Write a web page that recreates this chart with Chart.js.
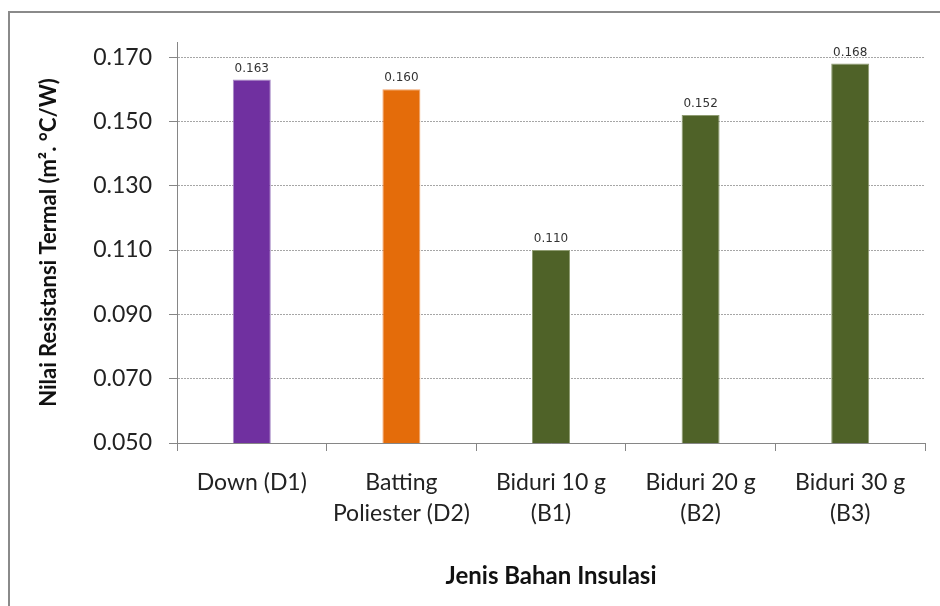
<!DOCTYPE html>
<html>
<head>
<meta charset="utf-8">
<script src="https://cdn.jsdelivr.net/npm/chart.js@4"></script>
<style>
  body { margin: 0; background: #fff; }
  #frame { position: absolute; left: 8px; top: 11px; width: 940px; height: 600px;
           border-left: 2px solid #8a8a8a; border-top: 2px solid #8a8a8a; }
  #wrap { position: absolute; left: 0; top: 0; width: 940px; height: 606px; }
  canvas { display: block; }
</style>
</head>
<body>
<div id="frame"></div>
<div id="wrap"><canvas id="chart" width="940" height="606"></canvas></div>
<script>
// Categories and values
const categories = [
  ["Down (D1)"],
  ["Batting", "Poliester (D2)"],
  ["Biduri 10 g", "(B1)"],
  ["Biduri 20 g", "(B2)"],
  ["Biduri 30 g", "(B3)"],
];
const resistance = [0.163, 0.160, 0.110, 0.152, 0.168];
const yTicks = [0.050, 0.070, 0.090, 0.110, 0.130, 0.150, 0.170];

const barColors = ["#7030A0", "#E46C0A", "#4F6228", "#4F6228", "#4F6228"];
const barEdges = ["#a88bc6", "#f2a36a", "#8f9c72", "#8f9c72", "#8f9c72"];

const axisGray = "#868686";
const fontFamily = "Lato, 'Open Sans', sans-serif";

// value labels above each bar
const valueLabels = {
  id: "valueLabels",
  afterDatasetsDraw(chart) {
    const ctx = chart.ctx;
    const meta = chart.getDatasetMeta(0);
    ctx.save();
    ctx.font = "12px 'DejaVu Sans'";
    ctx.fillStyle = "#333";
    ctx.textAlign = "center";
    ctx.textBaseline = "alphabetic";
    meta.data.forEach((bar, i) => {
      ctx.fillText(resistance[i].toFixed(3), bar.x, bar.y - 8);
    });
    ctx.restore();
  }
};

const ctx = document.getElementById("chart").getContext("2d");
const chart = new Chart(ctx, {
  type: "bar",
  data: {
    labels: categories,
    datasets: [{
      data: resistance,
      backgroundColor: barColors,
      borderColor: barEdges,
      borderWidth: 1,
      categoryPercentage: 1,
      barPercentage: 0.254,
    }],
  },
  options: {
    responsive: false,
    animation: false,
    layout: { padding: { left: 30, right: 15, top: 42, bottom: 10 } },
    plugins: {
      legend: { display: false },
      tooltip: { enabled: false },
    },
    scales: {
      x: {
        afterFit: (scale) => { scale.height = 153; },
        grid: { offset: true, drawOnChartArea: false, tickLength: 8, color: axisGray },
        border: { color: axisGray },
        ticks: {
          color: "#222",
          padding: 16,
          maxRotation: 0,
          autoSkip: false,
          font: { family: fontFamily, size: 23, lineHeight: 1.36 },
        },
        title: {
          display: true,
          text: "Jenis Bahan Insulasi",
          color: "#111",
          font: { family: fontFamily, size: 24, weight: "bold" },
          padding: { top: 0, bottom: 5 },
        },
      },
      y: {
        min: 0.05,
        max: 0.1747,
        afterFit: (scale) => { scale.width = 147; },
        afterBuildTicks: (scale) => { scale.ticks = yTicks.map(v => ({ value: v })); },
        grid: {
          color: "#a6a6a6",
          tickColor: axisGray,
          tickLength: 8,
          tickBorderDash: [],
        },
        border: { color: axisGray, dash: [2, 1] },
        ticks: {
          color: "#222",
          padding: 17,
          font: { family: fontFamily, size: 23 },
          callback: (v) => Number(v).toFixed(3),
        },
        title: {
          display: true,
          text: "Nilai Resistansi Termal (m². °C/W)",
          color: "#111",
          font: { family: fontFamily, size: 22, weight: "bold" },
          padding: { top: 6, bottom: 0 },
        },
      },
    },
  },
  plugins: [valueLabels],
});
</script>
</body>
</html>
